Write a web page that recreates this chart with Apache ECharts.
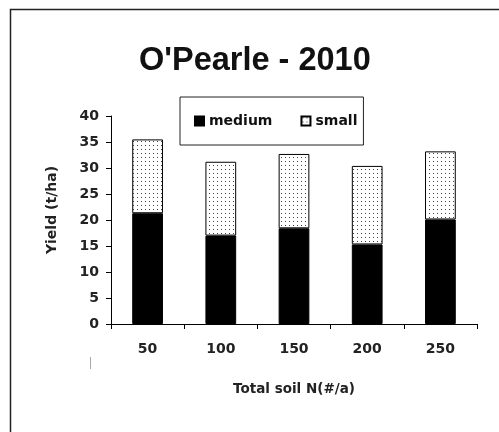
<!DOCTYPE html>
<html>
<head>
<meta charset="utf-8">
<script src="https://cdn.jsdelivr.net/npm/echarts@6/dist/echarts.min.js"></script>
<style>
  html, body { margin: 0; padding: 0; background: #fff; }
  #chart { width: 499px; height: 432px; }
</style>
</head>
<body>
<div id="chart"></div>
<script>
// Total soil N rates (#/a) and tuber yield by size class (t/ha)
const categories = ['50', '100', '150', '200', '250'];
const mediumYield = [21.3, 17.0, 18.4, 15.3, 20.1];
const smallYield = [14.2, 14.2, 14.3, 15.1, 13.1];
const yTicks = { min: 0, max: 40, step: 5 };

// Stippled fill for the "small" class
function dotPattern() {
  const c = document.createElement('canvas');
  c.width = 4; c.height = 4;
  const g = c.getContext('2d');
  g.fillStyle = '#ffffff';
  g.fillRect(0, 0, 4, 4);
  g.fillStyle = '#444444';
  g.fillRect(1, 1, 1, 1);
  return c;
}

const titleFont = 'Liberation Sans, Arial, sans-serif';
const labelFont = 'DejaVu Sans, Verdana, sans-serif';
const chart = echarts.init(document.getElementById('chart'), null, { renderer: 'canvas' });

chart.setOption({
  animation: false,
  backgroundColor: '#ffffff',
  title: {
    text: "O'Pearle - 2010",
    left: 139,
    top: 45,
    padding: 0,
    textStyle: { fontFamily: titleFont, fontWeight: 'bold', fontSize: 32.5, color: '#111' }
  },
  legend: {
    left: 180,
    top: 97,
    padding: [17, 6, 17, 14],
    itemGap: 28,
    itemWidth: 9,
    itemHeight: 9,
    icon: 'rect',
    borderColor: '#222',
    borderWidth: 1,
    textStyle: { fontFamily: labelFont, fontWeight: 'bold', fontSize: 14, color: '#111' },
    data: ['medium', 'small']
  },
  grid: { left: 111, right: 22, top: 116, bottom: 108 },
  xAxis: {
    type: 'category',
    data: categories,
    name: 'Total soil N(#/a)',
    nameLocation: 'middle',
    nameGap: 58,
    nameTextStyle: { fontFamily: labelFont, fontWeight: 'bold', fontSize: 13.5, color: '#222' },
    axisLine: { lineStyle: { color: '#000', width: 1 } },
    axisTick: { show: true, length: 5, lineStyle: { color: '#000' } },
    axisLabel: { margin: 18, fontFamily: labelFont, fontWeight: 'bold', fontSize: 14, color: '#222' }
  },
  yAxis: {
    type: 'value',
    min: yTicks.min,
    max: yTicks.max,
    interval: yTicks.step,
    name: 'Yield (t/ha)',
    nameLocation: 'middle',
    nameRotate: 90,
    nameGap: 52,
    nameTextStyle: { fontFamily: labelFont, fontWeight: 'bold', fontSize: 14, color: '#222', padding: [0, 0, 0, 20] },
    axisLine: { show: true, lineStyle: { color: '#000', width: 1 } },
    axisTick: { show: true, length: 5, lineStyle: { color: '#000' } },
    splitLine: { show: false },
    axisLabel: { margin: 12, fontFamily: labelFont, fontWeight: 'bold', fontSize: 14, color: '#222' }
  },
  series: [
    {
      name: 'medium',
      type: 'bar',
      stack: 'yield',
      barWidth: '42%',
      data: mediumYield,
      itemStyle: { color: '#000', borderColor: '#000', borderWidth: 1 }
    },
    {
      name: 'small',
      type: 'bar',
      stack: 'yield',
      barWidth: '42%',
      data: smallYield,
      itemStyle: {
        color: { image: dotPattern(), repeat: 'repeat' },
        borderColor: '#000',
        borderWidth: 1
      }
    }
  ],
  graphic: [
    {
      type: 'rect',
      shape: { x: 10.5, y: 9.5, width: 520, height: 460 },
      style: { fill: 'none', stroke: '#222', lineWidth: 1.5 },
      silent: true
    },
    {
      type: 'line',
      shape: { x1: 90.5, y1: 357, x2: 90.5, y2: 369 },
      style: { stroke: '#aaa', lineWidth: 1 },
      silent: true
    }
  ]
});
</script>
</body>
</html>
